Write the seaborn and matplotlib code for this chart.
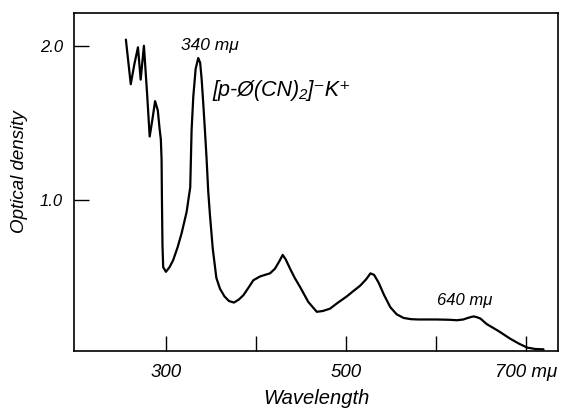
import pandas as pd
import matplotlib
matplotlib.use("Agg")
import matplotlib.pyplot as plt
import seaborn as sns

# Absorption spectrum
wavelength = [255.6, 261, 265, 269, 272, 275.6, 279, 282, 285, 288, 291, 293, 294.4, 295.2,
              295.6, 296.2, 297, 300, 304, 308, 313, 317.4, 323, 327, 328.5, 330.4, 333,
              335.9, 338, 339.7, 341.5, 343.3, 345, 347, 349, 352, 356, 360, 365, 370, 375.5,
              381, 386, 392, 397, 404.5, 410, 415.5, 421, 426, 429.6, 433, 437.8, 443, 449,
              458, 467.4, 474, 482, 491, 500.7, 508, 515.6, 522, 527, 531, 536, 542, 549,
              556, 563.7, 572, 580, 600, 615, 623, 630, 636, 641.5, 645, 649, 656, 669, 682,
              692, 701, 710, 719]
density = [2.04, 1.75, 1.88, 1.99, 1.78, 2.00, 1.70, 1.41, 1.52, 1.64, 1.58, 1.46, 1.39, 1.26,
           1.00, 0.70, 0.56, 0.53, 0.56, 0.605, 0.69, 0.78, 0.92, 1.08, 1.45, 1.67, 1.85,
           1.92, 1.89, 1.78, 1.62, 1.45, 1.28, 1.05, 0.89, 0.68, 0.49, 0.42, 0.37, 0.34, 0.33,
           0.35, 0.378, 0.43, 0.475, 0.50, 0.51, 0.52, 0.55, 0.60, 0.64, 0.61, 0.55, 0.49, 0.43,
           0.334, 0.27, 0.275, 0.29, 0.33, 0.37, 0.405, 0.44, 0.48, 0.52, 0.51, 0.46, 0.38, 0.30,
           0.254, 0.23, 0.222, 0.22, 0.22, 0.218, 0.215, 0.22, 0.232, 0.24, 0.235, 0.226, 0.19,
           0.145, 0.095, 0.062, 0.037, 0.028, 0.026]

x_ticks = [300, 400, 500, 600, 700]
x_tick_labels = ["300", "", "500", "", "700 mμ"]
y_ticks = [1.0, 2.0]
y_tick_labels = ["1.0", "2.0"]

df = pd.DataFrame({"Wavelength": wavelength, "Optical density": density})

sns.set_style("ticks")
plt.rcParams["font.family"] = ["Liberation Sans", "DejaVu Sans"]
plt.rcParams["font.style"] = "italic"
plt.rcParams["text.color"] = "black"
plt.rcParams["axes.labelcolor"] = "black"
plt.rcParams["xtick.color"] = "black"
plt.rcParams["ytick.color"] = "black"

fig = plt.figure(figsize=(5.63, 4.08), dpi=100)
ax = fig.add_axes([0.1314, 0.1397, 0.8596, 0.8284])

sns.lineplot(data=df, x="Wavelength", y="Optical density", color="black",
             linewidth=1.6, ax=ax, sort=False)

ax.set_xlim(198, 735)
ax.set_ylim(0.015, 2.213)
ax.set_xticks(x_ticks)
ax.set_xticklabels(x_tick_labels, fontsize=13.5)
ax.set_yticks(y_ticks)
ax.set_yticklabels(y_tick_labels, fontsize=12)
ax.tick_params(direction="in", length=11, width=1.0, pad=9)
ax.tick_params(axis="y", pad=8)

for s in ax.spines.values():
    s.set_color("black")
    s.set_linewidth(1.2)

ax.set_xlabel("Wavelength", fontsize=14.5, labelpad=6)
ax.set_ylabel("Optical density", fontsize=13.5)
ax.yaxis.set_label_coords(-0.095, 0.53)

ax.text(349, 2.0, "340 mμ", fontsize=12.5, ha="center", va="center")
ax.text(352, 1.71, "[p-Ø(CN)₂]⁻K⁺", fontsize=15.5, ha="left", va="center")
ax.text(632, 0.345, "640 mμ", fontsize=12, ha="center", va="center")

fig.savefig("out.png", dpi=100)
